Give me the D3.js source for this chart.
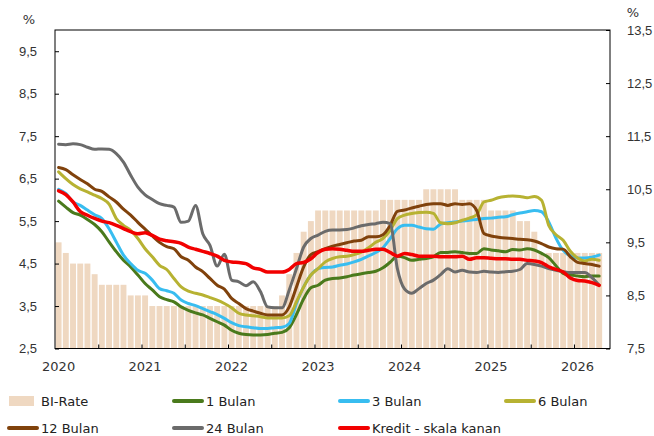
<!DOCTYPE html>
<html>
<head>
<meta charset="utf-8">
<script src="https://cdn.jsdelivr.net/npm/d3@7"></script>
<style>
  body { margin: 0; background: #fff; }
  svg { display: block; font-family: "DejaVu Sans", Verdana, sans-serif; }
  .axis text { font-size: 13px; fill: #333; }
  .axis path, .axis line { stroke: #000; }
  .legend text { font-size: 13px; fill: #222; }
</style>
</head>
<body>
<svg width="654" height="436"></svg>
<script>
// tick labels
var yearLabels = ["2020", "2021", "2022", "2023", "2024", "2025", "2026"];
var leftTicks = [2.5, 3.5, 4.5, 5.5, 6.5, 7.5, 8.5, 9.5];
var rightTicks = [7.5, 8.5, 9.5, 10.5, 11.5, 12.5, 13.5];

// monthly values, Jan 2020 .. Apr 2026
var biRate = [5.0, 4.75, 4.5, 4.5, 4.5, 4.25, 4.0, 4.0, 4.0, 4.0, 3.75, 3.75,
  3.75, 3.5, 3.5, 3.5, 3.5, 3.5, 3.5, 3.5, 3.5, 3.5, 3.5, 3.5,
  3.5, 3.5, 3.5, 3.5, 3.5, 3.5, 3.5, 3.75, 4.25, 4.75, 5.25, 5.5,
  5.75, 5.75, 5.75, 5.75, 5.75, 5.75, 5.75, 5.75, 5.75, 6.0, 6.0, 6.0,
  6.0, 6.0, 6.0, 6.25, 6.25, 6.25, 6.25, 6.25, 6.0, 6.0, 6.0, 6.0,
  5.75, 5.75, 5.75, 5.75, 5.5, 5.5, 5.25, 4.75, 4.75, 4.75, 4.75, 4.75,
  4.75, 4.75, 4.75, 4.75];

var bulan1 = [5.97, 5.83, 5.70, 5.64, 5.54, 5.42, 5.25, 5.01, 4.78, 4.58, 4.42, 4.23,
  4.03, 3.88, 3.72, 3.65, 3.60, 3.48, 3.40, 3.34, 3.29, 3.21, 3.13, 3.05,
  2.93, 2.86, 2.83, 2.82, 2.82, 2.83, 2.86, 2.88, 2.99, 3.30, 3.67, 3.93,
  3.99, 4.11, 4.15, 4.16, 4.19, 4.23, 4.26, 4.29, 4.32, 4.40, 4.53, 4.67,
  4.64, 4.58, 4.60, 4.62, 4.66, 4.76, 4.76, 4.78, 4.76, 4.74, 4.74, 4.85,
  4.82, 4.80, 4.78, 4.83, 4.82, 4.85, 4.82, 4.74, 4.64, 4.45, 4.27, 4.23,
  4.21, 4.19, 4.21, 4.21];

var bulan3 = [6.25, 6.15, 5.95, 5.87, 5.76, 5.65, 5.56, 5.32, 5.01, 4.70, 4.50, 4.34,
  4.27, 4.11, 3.91, 3.86, 3.80, 3.64, 3.56, 3.51, 3.44, 3.37, 3.30, 3.21,
  3.11, 3.04, 3.01, 2.99, 2.97, 2.97, 2.99, 3.00, 3.09, 3.56, 3.95, 4.23,
  4.38, 4.41, 4.42, 4.46, 4.49, 4.54, 4.60, 4.68, 4.76, 4.87, 5.09, 5.32,
  5.40, 5.40, 5.36, 5.32, 5.31, 5.43, 5.46, 5.48, 5.50, 5.52, 5.54, 5.56,
  5.57, 5.59, 5.60, 5.65, 5.69, 5.72, 5.75, 5.72, 5.48, 5.10, 4.81, 4.68,
  4.63, 4.63, 4.65, 4.70];

var bulan6 = [6.66, 6.50, 6.36, 6.26, 6.19, 6.11, 6.03, 5.90, 5.56, 5.40, 5.28, 5.09,
  4.85, 4.66, 4.46, 4.36, 4.15, 3.95, 3.85, 3.80, 3.76, 3.70, 3.64, 3.56,
  3.46, 3.33, 3.29, 3.27, 3.25, 3.22, 3.22, 3.22, 3.27, 3.60, 3.95, 4.23,
  4.38, 4.54, 4.62, 4.66, 4.67, 4.71, 4.77, 4.87, 5.00, 5.09, 5.28, 5.56,
  5.64, 5.68, 5.70, 5.71, 5.68, 5.46, 5.44, 5.46, 5.52, 5.57, 5.65, 5.95,
  5.99, 6.05, 6.08, 6.09, 6.08, 6.05, 6.08, 5.99, 5.40, 5.18, 5.05, 4.79,
  4.63, 4.56, 4.60, 4.58];

var bulan12 = [6.76, 6.71, 6.59, 6.48, 6.38, 6.25, 6.20, 6.07, 5.95, 5.78, 5.64, 5.47,
  5.31, 5.15, 5.00, 4.90, 4.85, 4.66, 4.58, 4.42, 4.31, 4.15, 3.99, 3.90,
  3.68, 3.56, 3.44, 3.38, 3.33, 3.29, 3.29, 3.29, 3.48, 3.95, 4.42, 4.71,
  4.78, 4.85, 4.91, 4.95, 4.99, 5.03, 5.05, 5.13, 5.13, 5.18, 5.40, 5.73,
  5.76, 5.81, 5.85, 5.89, 5.91, 5.91, 5.87, 5.91, 5.89, 5.91, 5.75, 5.21,
  5.15, 5.12, 5.10, 5.09, 5.07, 5.06, 5.03, 4.97, 4.89, 4.85, 4.84, 4.66,
  4.53, 4.50, 4.48, 4.44];

var bulan24 = [7.31, 7.30, 7.32, 7.30, 7.24, 7.19, 7.20, 7.19, 7.09, 6.89, 6.58, 6.30,
  6.12, 6.01, 5.91, 5.87, 5.83, 5.47, 5.50, 5.87, 5.20, 4.93, 4.44, 4.72,
  4.11, 4.07, 3.98, 4.07, 3.84, 3.48, 3.46, 3.46, 3.88, 4.38, 4.89, 5.09,
  5.17, 5.26, 5.29, 5.29, 5.30, 5.34, 5.39, 5.42, 5.44, 5.47, 5.44, 4.38,
  3.90, 3.80, 3.91, 4.03, 4.11, 4.24, 4.38, 4.30, 4.34, 4.30, 4.29, 4.32,
  4.30, 4.29, 4.31, 4.32, 4.36, 4.50, 4.48, 4.44, 4.38, 4.34, 4.31, 4.29,
  4.29, 4.29, 4.17, 3.99];

// kredit, right-hand scale
var kredit = [10.47, 10.40, 10.26, 10.08, 10.01, 9.95, 9.90, 9.87, 9.82, 9.76, 9.70, 9.66,
  9.68, 9.63, 9.56, 9.53, 9.51, 9.48, 9.41, 9.37, 9.33, 9.29, 9.24, 9.16,
  9.13, 9.12, 9.10, 9.02, 8.99, 8.94, 8.94, 8.94, 8.99, 9.10, 9.12, 9.19,
  9.31, 9.37, 9.38, 9.37, 9.35, 9.33, 9.33, 9.35, 9.37, 9.37, 9.31, 9.24,
  9.29, 9.27, 9.24, 9.24, 9.24, 9.23, 9.23, 9.23, 9.24, 9.18, 9.21, 9.21,
  9.20, 9.19, 9.19, 9.18, 9.18, 9.16, 9.15, 9.12, 9.04, 8.99, 8.94, 8.83,
  8.78, 8.77, 8.74, 8.69];

// one empty month at the right end (May 2026)
var months = d3.timeMonth.range(new Date(2020, 0, 1), new Date(2026, 5, 1));

var margin = { top: 30, right: 44, bottom: 87.5, left: 55 };
var width = 654 - margin.left - margin.right;
var height = 436 - margin.top - margin.bottom;

var svg = d3.select("svg");
var g = svg.append("g")
    .attr("transform", "translate(" + margin.left + "," + margin.top + ")");

var x = d3.scaleBand()
    .domain(d3.range(months.length))
    .range([0, width])
    .paddingInner(0.18)
    .paddingOuter(0.09);
var xEdge = d3.scaleLinear().domain([0, months.length]).range([0, width]);

var yL = d3.scaleLinear().domain([2.5, 10]).range([height, 0]);
var yR = d3.scaleLinear().domain([7.5, 13.5]).range([height, 0]);

var loc = d3.formatLocale({ decimal: ",", thousands: ".", grouping: [3], currency: ["", ""] });
var fmt = loc.format(".1f");

// bars
g.selectAll(".bar")
    .data(biRate)
    .enter().append("rect")
    .attr("class", "bar")
    .attr("x", function(d, i) { return x(i); })
    .attr("width", x.bandwidth())
    .attr("y", function(d) { return yL(d); })
    .attr("height", function(d) { return height - yL(d); })
    .attr("fill", "#efd8c1");

function cx(i) { return x(i) + x.bandwidth() / 2; }

var series = [
  { values: bulan1, color: "#4a7a1c", axis: yL, w: 3 },
  { values: bulan3, color: "#38bdf0", axis: yL, w: 3 },
  { values: bulan6, color: "#b7b232", axis: yL, w: 3 },
  { values: bulan12, color: "#80420c", axis: yL, w: 3 },
  { values: bulan24, color: "#6b6b6b", axis: yL, w: 3 },
  { values: kredit, color: "#f20000", axis: yR, w: 3.5 }
];

series.forEach(function(s) {
  var line = d3.line()
      .x(function(d, i) { return cx(i); })
      .y(function(d) { return s.axis(d); })
      .curve(d3.curveMonotoneX);
  g.append("path")
      .datum(s.values)
      .attr("fill", "none")
      .attr("stroke", s.color)
      .attr("stroke-width", s.w)
      .attr("stroke-linejoin", "round")
      .attr("stroke-linecap", "round")
      .attr("d", line);
});

// frame
g.append("rect")
    .attr("width", width)
    .attr("height", height)
    .attr("fill", "none")
    .attr("stroke", "#000")
    .attr("stroke-width", 1);

// axes
g.append("g")
    .attr("class", "axis")
    .call(d3.axisLeft(yL).tickValues(leftTicks).tickSize(-4).tickPadding(18).tickFormat(fmt))
    .call(function(a) { a.select(".domain").remove(); });

g.append("g")
    .attr("class", "axis")
    .attr("transform", "translate(" + width + ",0)")
    .call(d3.axisRight(yR).tickValues(rightTicks).tickSize(-4).tickPadding(17).tickFormat(fmt))
    .call(function(a) { a.select(".domain").remove(); });

g.append("g")
    .attr("class", "axis")
    .attr("transform", "translate(0," + height + ")")
    .call(d3.axisBottom(xEdge).tickValues(d3.range(6, 73, 6)).tickSize(-4).tickFormat(""))
    .call(function(a) { a.select(".domain").remove(); });

g.append("g")
    .attr("class", "axis")
    .selectAll("text")
    .data(yearLabels)
    .enter().append("text")
    .attr("x", function(d, i) { return cx(i * 12); })
    .attr("y", height + 22)
    .attr("text-anchor", "middle")
    .text(function(d) { return d; });

svg.append("text").attr("x", 29).attr("y", 24)
    .attr("text-anchor", "middle").style("font-size", "13px").style("fill", "#333").text("%");
svg.append("text").attr("x", 633).attr("y", 17)
    .attr("text-anchor", "middle").style("font-size", "13px").style("fill", "#333").text("%");

// legend
var legendItems = [
  { name: "BI-Rate", color: "#efd8c1", bar: true, x: 9, y: 401 },
  { name: "1 Bulan", color: "#4a7a1c", x: 174, y: 401 },
  { name: "3 Bulan", color: "#38bdf0", x: 340, y: 401 },
  { name: "6 Bulan", color: "#b7b232", x: 506, y: 401 },
  { name: "12 Bulan", color: "#80420c", x: 9, y: 428 },
  { name: "24 Bulan", color: "#6b6b6b", x: 174, y: 428 },
  { name: "Kredit - skala kanan", color: "#f20000", x: 340, y: 428 }
];

var lg = svg.append("g").attr("class", "legend");
legendItems.forEach(function(d) {
  if (d.bar) {
    lg.append("rect").attr("x", d.x).attr("y", d.y - 5).attr("width", 25).attr("height", 10).attr("fill", d.color);
  } else {
    lg.append("line").attr("x1", d.x).attr("x2", d.x + 28).attr("y1", d.y).attr("y2", d.y)
        .attr("stroke", d.color).attr("stroke-width", 4).attr("stroke-linecap", "round");
  }
  lg.append("text").attr("x", d.x + 32).attr("y", d.y).attr("dy", "0.35em").text(d.name);
});
</script>
</body>
</html>
